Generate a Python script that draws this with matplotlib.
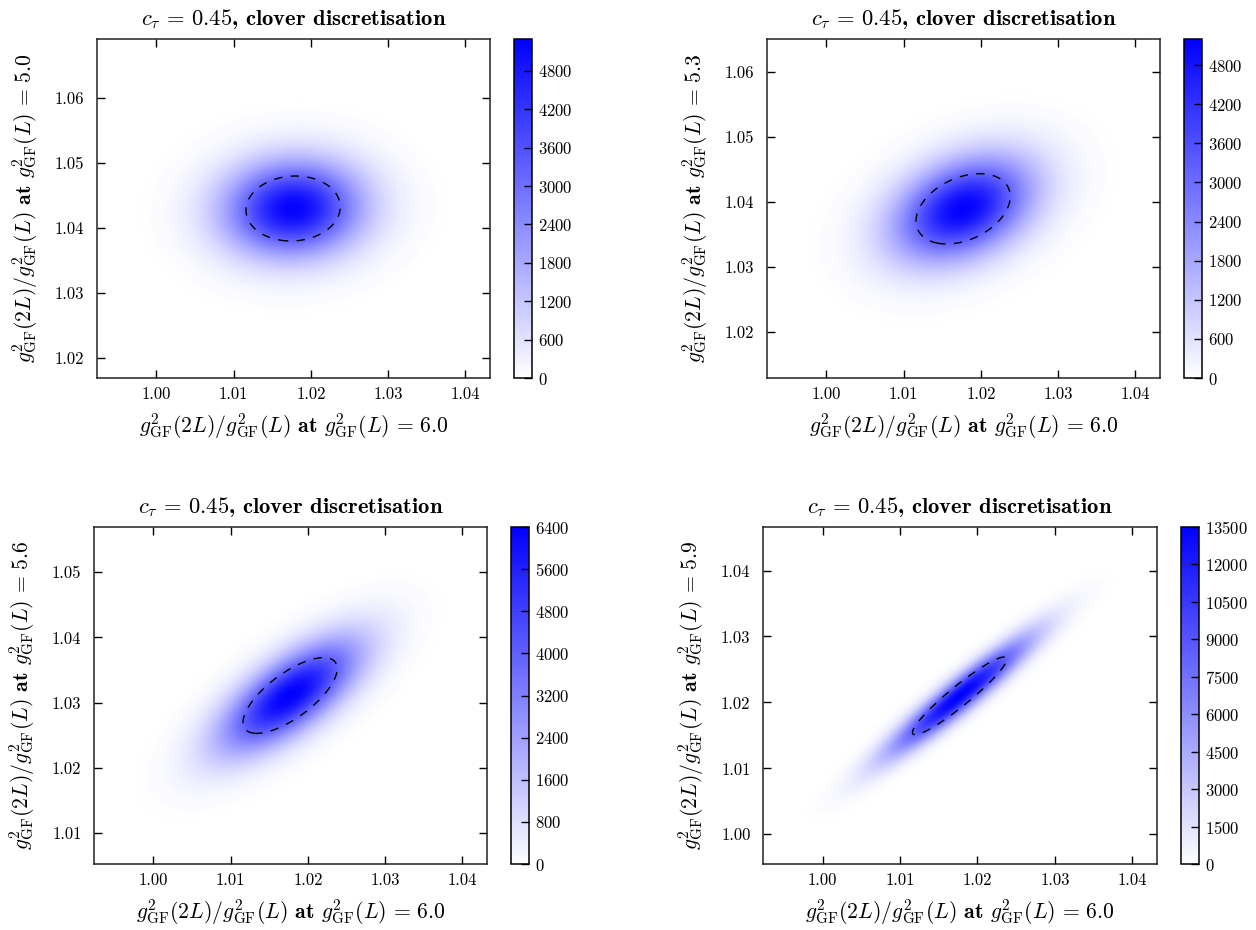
import numpy as np
import matplotlib.pyplot as plt
from matplotlib.colors import LinearSegmentedColormap

plt.rcParams['font.family'] = 'cmr10'
plt.rcParams['mathtext.fontset'] = 'cm'
plt.rcParams['axes.unicode_minus'] = False
plt.rcParams['axes.formatter.use_mathtext'] = True

# x is the same quantity (g^2 = 6.0) in every panel
mu_x = 1.0177
sigma_x = 0.0061
g_low = ['5.0', '5.3', '5.6', '5.9']
mu_y = [1.0430, 1.0389, 1.0311, 1.0210]
sigma_y = [0.0050, 0.0054, 0.0058, 0.0059]
rho = [0.05, 0.35, 0.71, 0.944]

xlim = (0.9923, 1.0432)
ylims = [(1.0169, 1.0691), (1.0129, 1.0650), (1.0053, 1.0569), (0.9955, 1.0466)]
xticks = [1.00, 1.01, 1.02, 1.03, 1.04]
yticks = [[1.02, 1.03, 1.04, 1.05, 1.06],
          [1.02, 1.03, 1.04, 1.05, 1.06],
          [1.01, 1.02, 1.03, 1.04, 1.05],
          [1.00, 1.01, 1.02, 1.03, 1.04]]
cb_top = [5300, 5200, 6400, 13500]
cb_step = [600, 600, 800, 1500]

W, H = 1256, 930
# pixel boxes (left, right, top, bottom) of plot and colorbar
ax_px = [(97, 490, 39, 378), (767, 1160, 39, 378),
         (94, 487, 527, 864), (763, 1157, 527, 864)]
cb_px = [(514, 532), (1184, 1202), (511, 529), (1181, 1199)]


def rect(l, r, t, b):
    return [l / W, 1 - b / H, (r - l) / W, (b - t) / H]


cmap = LinearSegmentedColormap.from_list('wb', ['white', 'blue'])
fig = plt.figure(figsize=(12.56, 9.3), dpi=100)

for i in range(4):
    l, r, t, b = ax_px[i]
    ax = fig.add_axes(rect(l, r, t, b))
    cax = fig.add_axes(rect(cb_px[i][0], cb_px[i][1], t, b))

    x = np.linspace(xlim[0], xlim[1], 300)
    y = np.linspace(ylims[i][0], ylims[i][1], 300)
    X, Y = np.meshgrid(x, y)
    sx, sy, p = sigma_x, sigma_y[i], rho[i]
    u = (X - mu_x) / sx
    v = (Y - mu_y[i]) / sy
    q = (u**2 - 2 * p * u * v + v**2) / (1 - p**2)
    Z = np.exp(-0.5 * q) / (2 * np.pi * sx * sy * np.sqrt(1 - p**2))

    cf = ax.contourf(X, Y, Z, levels=np.linspace(0, cb_top[i], 200), cmap=cmap)
    # one-sigma contour
    ax.contour(X, Y, q, levels=[1.0], colors='black', linewidths=1.0,
               linestyles=[(0, (6, 6))])

    ax.set_xlim(xlim)
    ax.set_ylim(ylims[i])
    ax.set_xticks(xticks)
    ax.set_yticks(yticks[i])
    ax.set_xticklabels(['%.2f' % v_ for v_ in xticks])
    ax.set_yticklabels(['%.2f' % v_ for v_ in yticks[i]])
    ax.tick_params(direction='in', top=True, right=True, length=5.5, width=1,
                   labelsize=12)
    ax.tick_params(axis='x', pad=6)
    ax.tick_params(axis='y', pad=9)
    for s in ax.spines.values():
        s.set_linewidth(1.1)
        s.set_color('#222222')

    ax.set_title(r'$c_\tau \,=\, 0.45$, clover discretisation', fontsize=16.3,
                 fontfamily='cmb10', pad=10)
    ax.set_xlabel(r'$g^2_{\rm GF}(2L)/g^2_{\rm GF}(L)$ at $g^2_{\rm GF}(L) \,=\, 6.0$',
                  fontsize=15.6, fontfamily='cmb10', labelpad=7)
    ax.set_ylabel(r'$g^2_{\rm GF}(2L)/g^2_{\rm GF}(L)$ at $g^2_{\rm GF}(L) \,=\, %s$' % g_low[i],
                  fontsize=15.6, fontfamily='cmb10', labelpad=11)

    cb = fig.colorbar(cf, cax=cax, ticks=np.arange(0, cb_top[i] + 1, cb_step[i]))
    cb.ax.tick_params(direction='in', length=5.5, width=1, labelsize=12, pad=4)
    cb.outline.set_linewidth(1.1)

fig.savefig('out.png', dpi=100)
